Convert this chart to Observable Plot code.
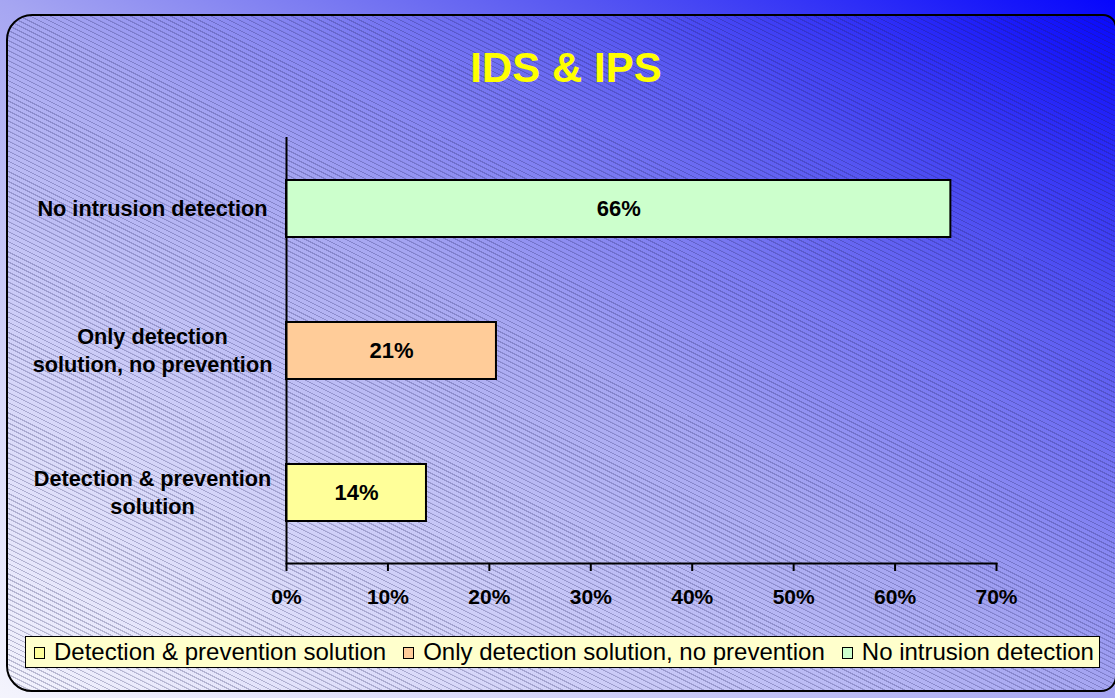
<!DOCTYPE html>
<html>
<head>
<meta charset="utf-8">
<script src="https://cdn.jsdelivr.net/npm/d3@7"></script>
<script src="https://cdn.jsdelivr.net/npm/@observablehq/plot@0.6"></script>
<style>
html, body { margin: 0; padding: 0; }
body { width: 1115px; height: 698px; overflow: hidden; font-family: "Liberation Sans", Arial, sans-serif; }
#wrap {
  position: relative; width: 1115px; height: 698px; overflow: hidden;
  background: linear-gradient(to top right, #f4f4fd 0%, #d8d8f9 22%, #a6a6f2 50%, #5656f2 76%, #0606fc 100%);
}
#panel {
  position: absolute; left: 6px; top: 14px; width: 1111px; height: 678px; box-sizing: border-box;
  border: 2px solid #000; border-radius: 26px 14px 16px 26px;
  background: repeating-linear-gradient(26.57deg, rgba(30,30,90,0.26) 0px, rgba(30,30,90,0.26) 1px, rgba(0,0,0,0) 1.3px, rgba(0,0,0,0) 4.5px);
}
#title {
  position: absolute; left: 0; width: 1132px; top: 47px; text-align: center;
  font-size: 42px; line-height: 42px; font-weight: bold; color: #ffff00;
}
#chart { position: absolute; left: 0; top: 0; }
#chart svg { display: block; }
#legend {
  position: absolute; left: 25px; top: 636px; width: 1075px; height: 32px; box-sizing: border-box;
  border: 1.5px solid #000; background: #ffffcc; display: flex; align-items: center;
  padding-left: 8px; font-size: 24px; line-height: 30px; white-space: nowrap; color: #000;
}
.item { display: flex; align-items: center; margin-right: 17px; }
.sw { width: 11px; height: 12px; box-sizing: border-box; border: 1.5px solid #000; margin-right: 9px; position: relative; top: 1px; }
</style>
</head>
<body>
<div id="wrap">
  <div id="panel"></div>
  <div id="title"></div>
  <div id="chart"></div>
  <div id="legend"></div>
</div>
<script>
// ---- data ----
const title = "IDS & IPS";
const categories = [
  "Detection & prevention solution",
  "Only detection solution, no prevention",
  "No intrusion detection"
];
const axisLabels = [
  "Detection & prevention\nsolution",
  "Only detection\nsolution, no prevention",
  "No intrusion detection"
];
const shares = [13.8, 20.7, 65.5];
const colors = ["#ffff99", "#ffcc99", "#ccffcc"];
const xTicks = [0, 10, 20, 30, 40, 50, 60, 70];

// ---- build ----
const data = categories.map((c, i) => ({category: c, value: shares[i]}));
const labelOf = Object.fromEntries(categories.map((c, i) => [c, axisLabels[i]]));

document.getElementById("title").textContent = title;

const chart = Plot.plot({
  width: 1115,
  height: 698,
  marginLeft: 286,
  marginRight: 119,
  marginTop: 137,
  marginBottom: 135,
  style: {
    background: "transparent",
    fontFamily: '"Liberation Sans", Arial, sans-serif',
    fontSize: "21px",
    fontWeight: "bold",
    color: "#000",
    overflow: "visible"
  },
  x: {domain: [0, 70], ticks: xTicks},
  y: {domain: [...categories].reverse(), paddingInner: 0.6, paddingOuter: 0.3},
  color: {domain: categories, range: colors},
  marks: [
    Plot.barX(data, {x: "value", y: "category", fill: "category", stroke: "#000", strokeWidth: 2}),
    Plot.text(data, {x: d => d.value / 2, y: "category", text: d => Math.round(d.value) + "%", fill: "#000", fontSize: 22}),
    Plot.ruleX([0], {stroke: "#000", strokeWidth: 2}),
    Plot.frame({anchor: "bottom", stroke: "#000", strokeWidth: 2}),
    Plot.axisX({ticks: xTicks, tickSize: 8, tickPadding: 18, tickFormat: d => d + "%", label: null, strokeWidth: 2, fill: "#000"}),
    Plot.axisY({tickSize: 0, tickPadding: 0, textAnchor: "middle", dx: -134, dy: -2, fontSize: 21.7, lineHeight: 1.31, tickFormat: d => labelOf[d], label: null, fill: "#000"})
  ]
});
document.getElementById("chart").appendChild(chart);

const legend = document.getElementById("legend");
categories.forEach((c, i) => {
  const item = document.createElement("div");
  item.className = "item";
  const sw = document.createElement("span");
  sw.className = "sw";
  sw.style.background = colors[i];
  const tx = document.createElement("span");
  tx.textContent = c;
  item.appendChild(sw);
  item.appendChild(tx);
  legend.appendChild(item);
});
</script>
</body>
</html>
